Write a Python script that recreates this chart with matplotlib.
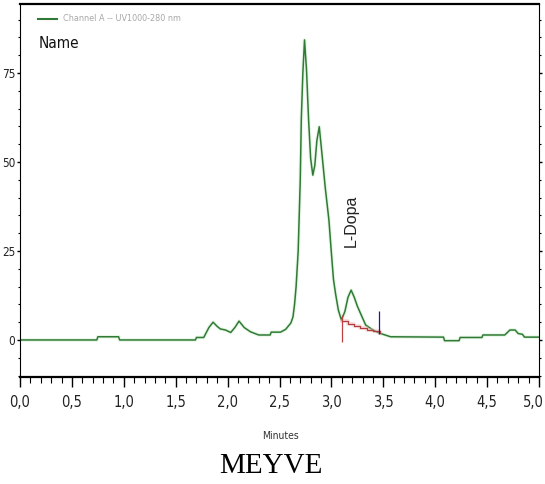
import numpy as np
import matplotlib
matplotlib.use("Agg")
import matplotlib.pyplot as plt
from matplotlib.ticker import MultipleLocator, FuncFormatter
from matplotlib.transforms import ScaledTranslation

# chromatogram trace, Channel A (UV 280 nm)
minutes = [0.00, 0.74, 0.75, 0.95, 0.96, 1.69, 1.70, 1.77, 1.82, 1.86,
           1.90, 1.93, 1.98, 2.03, 2.07, 2.11, 2.16, 2.22, 2.30, 2.41,
           2.42, 2.51, 2.56, 2.61, 2.63, 2.645, 2.66, 2.68, 2.70, 2.71,
           2.725, 2.741, 2.76, 2.78, 2.80, 2.821, 2.84, 2.86, 2.883, 2.91,
           2.94, 2.976, 3.00, 3.02, 3.04, 3.067, 3.096, 3.13, 3.16, 3.19,
           3.22, 3.25, 3.28, 3.33, 3.40, 3.465, 3.57, 4.08, 4.09, 4.23,
           4.24, 4.45, 4.46, 4.67, 4.72, 4.77, 4.80, 4.84, 4.86, 5.00]
signal = [0.0, 0.0, 0.9, 0.9, 0.0, 0.0, 0.7, 0.7, 3.5, 5.0,
          3.8, 3.1, 2.8, 2.1, 3.5, 5.3, 3.5, 2.3, 1.4, 1.4,
          2.2, 2.2, 3.0, 4.8, 6.5, 10.0, 15.0, 25.0, 45.0, 62.0,
          75.0, 84.3, 76.0, 62.0, 51.0, 46.3, 49.0, 56.0, 59.9, 52.0,
          43.0, 33.7, 24.4, 17.0, 13.0, 8.4, 5.6, 8.0, 12.0, 14.0,
          12.0, 9.5, 7.5, 4.2, 2.8, 1.9, 0.9, 0.8, -0.2, -0.2,
          0.7, 0.7, 1.4, 1.4, 2.8, 2.8, 1.8, 1.6, 0.8, 0.8]

# integration baseline under the L-Dopa peak
base_minutes = [3.10, 3.16, 3.22, 3.28, 3.34, 3.40, 3.465]
base_signal = [5.2, 4.6, 4.0, 3.4, 2.9, 2.4, 1.9]
peak_start = (3.10, -0.5, 7.0)
peak_end = (3.46, 1.7, 8.0)
peak_name = "L-Dopa"
peak_label_pos = (3.19, 33.5)

fig = plt.figure(figsize=(5.45, 4.84), dpi=100)
ax = fig.add_axes([0.0367, 0.2211, 0.9523, 0.7707])

narrow = ["Liberation Sans Narrow", "DejaVu Sans"]

ax.plot(minutes, signal, color="#c6ecc6", lw=2.6, alpha=0.45, solid_capstyle="butt")
ax.plot(minutes, signal, color="#317a36", lw=1.1)
ax.plot(base_minutes, base_signal, color="#f2b0b0", lw=2.6, alpha=0.45, drawstyle="steps-post")
ax.plot(base_minutes, base_signal, color="#b04040", lw=0.9, drawstyle="steps-post")
ax.vlines(peak_start[0], peak_start[1], peak_start[2], color="#c04040", lw=0.9)
ax.vlines(peak_end[0], peak_end[1], peak_end[2], color="#1a1a9a", lw=0.9)

ax.text(peak_label_pos[0], peak_label_pos[1], peak_name, rotation=90,
        ha="center", va="center", fontsize=11.5, family=["Liberation Sans", "DejaVu Sans"],
        color="#222222")

ax.set_xlim(0, 5)
ax.set_ylim(-10.4, 94.4)

ax.xaxis.set_major_locator(MultipleLocator(0.5))
ax.xaxis.set_minor_locator(MultipleLocator(0.1))
ax.yaxis.set_major_locator(MultipleLocator(25))
ax.yaxis.set_minor_locator(MultipleLocator(5))
ax.xaxis.set_major_formatter(FuncFormatter(lambda v, p: f"{v:.1f}".replace(".", ",")))
ax.yaxis.set_major_formatter(FuncFormatter(lambda v, p: f"{v:.0f}"))

ax.tick_params(axis="x", which="major", direction="out", length=7, width=1.0, pad=6)
ax.tick_params(axis="x", which="minor", direction="out", length=4, width=0.8)
ax.tick_params(axis="y", which="major", direction="out", length=2.5, width=1.0, pad=1,
               left=True, right=True)
ax.tick_params(axis="y", which="minor", direction="out", length=1.2, width=0.8,
               left=True, right=True)

fig.canvas.draw()
for lab in ax.get_xticklabels():
    lab.set_family(narrow)
    lab.set_fontstretch("condensed")
    lab.set_fontsize(10.5)
    lab.set_color("#222222")
    # the 5,0 label sits on the figure edge, nudge it inward
    if lab.get_text() == "5,0":
        lab.set_transform(lab.get_transform()
                          + ScaledTranslation(-6 / 100, 0, fig.dpi_scale_trans))
for lab in ax.get_yticklabels():
    lab.set_family(narrow)
    lab.set_fontstretch("condensed")
    lab.set_fontsize(8.5)
    lab.set_color("#222222")

ax.spines["top"].set_linewidth(1.6)
ax.spines["bottom"].set_linewidth(1.6)
ax.spines["left"].set_linewidth(0.8)
ax.spines["right"].set_linewidth(0.8)

# legend block in the corner
ax.plot([0.035, 0.071], [0.96, 0.96], transform=ax.transAxes, color="#317a36", lw=1.5)
ax.text(0.083, 0.96, "Channel A -- UV1000-280 nm", transform=ax.transAxes,
        ha="left", va="center", fontsize=6.5, family=narrow, fontstretch="condensed",
        color="#a8a8a8")
ax.text(0.035, 0.895, "Name", transform=ax.transAxes, ha="left", va="center",
        fontsize=11, family=narrow, fontstretch="condensed", color="#111111")

fig.text(0.514, 1 - 436 / 484, "Minutes", ha="center", va="center",
         fontsize=7.5, family=narrow, fontstretch="condensed", color="#333333")
fig.text(0.497, 1 - 466 / 484, "MEYVE", ha="center", va="center",
         fontsize=21, family=["Liberation Serif", "DejaVu Serif"], color="black")

fig.savefig("out.png", dpi=100, facecolor="white")
